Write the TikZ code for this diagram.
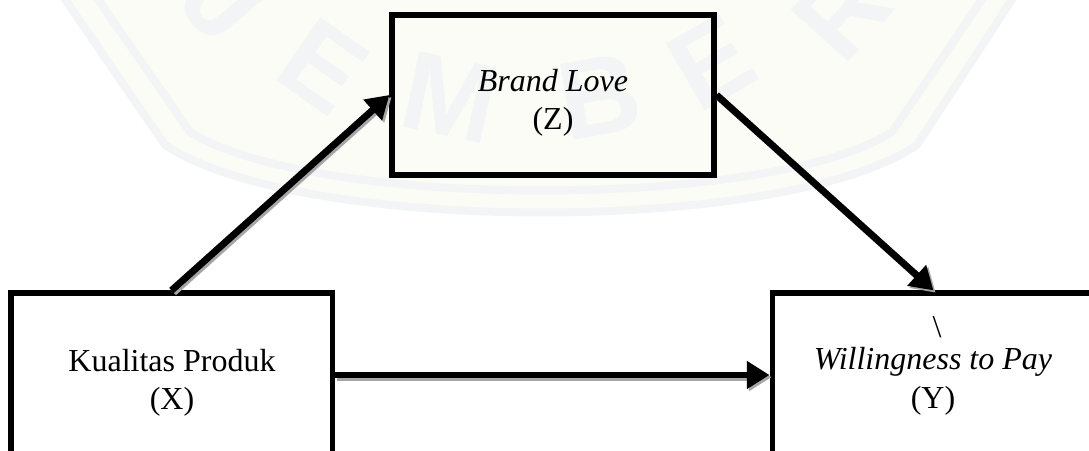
\documentclass[tikz,border=0pt]{standalone}
\usepackage{fontspec}
\setmainfont{Liberation Serif}
\newfontfamily\wmfont{Liberation Sans}
\usetikzlibrary{arrows.meta}
\definecolor{wmfill}{HTML}{FCFCF7}
\definecolor{wmline}{HTML}{F3F4F6}
\begin{document}
\begin{tikzpicture}[x=0.375pt,y=-0.375pt,
  box/.style={draw, line width=1.9pt, inner sep=0pt},
  lbl/.style={anchor=base, inner sep=0pt, font=\fontsize{12pt}{15pt}\selectfont},
  link/.style={line width=2.6pt, -{Triangle[length=8.5pt,width=10pt]}},
  linkshadow/.style={link, draw=black!35, fill=black!35},
  wmletter/.style={text=wmline, font=\wmfont\bfseries\fontsize{42pt}{42pt}\selectfont, inner sep=0pt}]
  \useasboundingbox (0,0) rectangle (1089,451);

  % faint background seal
  \begin{scope}
    \clip (0,0) rectangle (1089,451);
    \fill[wmfill] (62,-5) -- (165,145) .. controls (300,235) and (785,235) .. (917,145) -- (1015,-5) -- cycle;
    \draw[wmline, line width=3pt] (62,-5) -- (165,145) .. controls (300,235) and (785,235) .. (917,145) -- (1015,-5);
    \draw[wmline, line width=3pt] (95,-5) -- (190,132) .. controls (315,210) and (770,210) .. (892,132) -- (985,-5);
    \node[wmletter, rotate=-50] (wj) at (225,2) {J};
    \node[wmletter, rotate=-35] (we1) at (323,66) {E};
    \node[wmletter, rotate=-12] (wm) at (450,98) {M};
    \node[wmletter, rotate=10] (wb) at (600,97) {B};
    \node[wmletter, rotate=30] (we2) at (712,62) {E};
    \node[wmletter, rotate=48] (wr) at (842,12) {R};
  \end{scope}

  % variable boxes
  \node[box, minimum width=120.75pt, minimum height=60pt] (Z) at (553,95) {};
  \node[box, minimum width=120.4pt, minimum height=61.5pt] (X) at (171.5,375) {};
  \node[box, minimum width=121.1pt, minimum height=61.5pt] (Y) at (933.5,375) {};

  % box labels
  \node[lbl] (z1) at (553,92) {\itshape Brand Love};
  \node[lbl] (z2) at (553,130) {(Z)};
  \node[lbl] (x1) at (172,372) {Kualitas Produk};
  \node[lbl] (x2) at (172,410) {(X)};
  \node[lbl] (ybs) at (937,338) {\textbackslash};
  \node[lbl] (y1) at (933,370) {\itshape Willingness to Pay};
  \node[lbl] (y2) at (933,409) {(Y)};

  % arrow shadows
  \begin{scope}[transform canvas={shift={(0.8pt,-0.8pt)}}]
    \draw[linkshadow] (X.north) -- (Z.west);
    \draw[linkshadow] (Z.east) -- (Y.north);
    \draw[linkshadow] (X.east) -- (Y.west);
  \end{scope}

  % paths between variables
  \draw[link] (X.north) -- (Z.west);
  \draw[link] (Z.east) -- (Y.north);
  \draw[link] (X.east) -- (Y.west);
\end{tikzpicture}
\end{document}
